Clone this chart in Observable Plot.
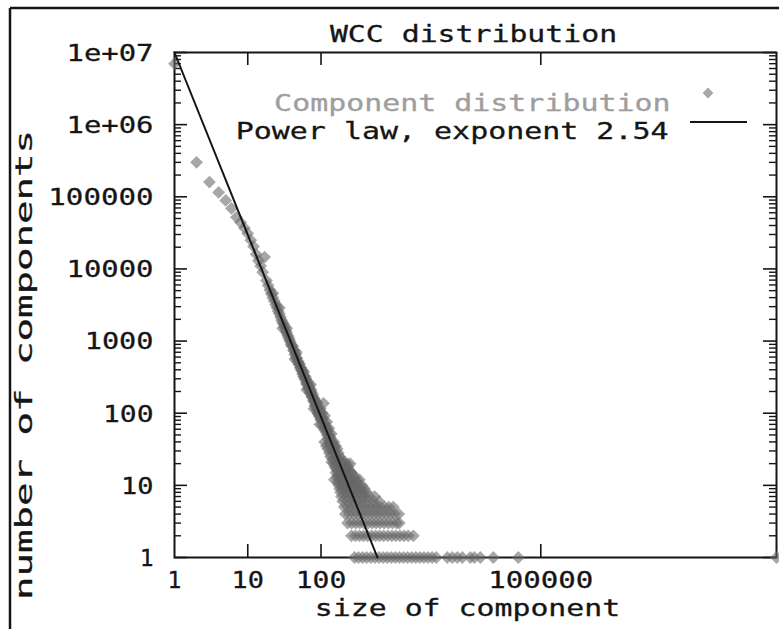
<!DOCTYPE html>
<html>
<head>
<meta charset="utf-8">
<script src="https://cdn.jsdelivr.net/npm/d3@7"></script>
<script src="https://cdn.jsdelivr.net/npm/@observablehq/plot@0.6"></script>
<style>
  html, body { margin: 0; padding: 0; background: #fff; }
  #chart svg { display: block; }
</style>
</head>
<body>
<div id="chart"></div>
<script>
// ---- Data ----
// sizes 1..151 : one count per size
const headSize = [
  1, 2, 3, 4, 5, 6, 7, 8, 9,
  10, 11, 12, 13, 14, 15, 16, 17, 18, 19, 20, 21, 22, 23, 24, 25, 26, 27, 28, 29, 30,
  31, 32, 33, 34, 35, 36, 37, 38, 39, 40,
  41, 42, 43, 44, 45, 46, 47, 48, 49, 50, 51, 52, 53, 54, 55, 56, 57, 58, 59, 60,
  61, 62, 63, 64, 65, 66, 67, 68, 69, 70, 71, 72, 73, 74, 75, 76, 77, 78, 79, 80,
  81, 82, 83, 84, 85, 86, 87, 88, 89, 90, 91, 92, 93, 94, 95, 96, 97, 98, 99, 100,
  102, 104, 106, 108, 109, 111, 113, 115, 117, 119, 121, 123, 125, 127, 129,
  131, 133, 135, 137, 139, 141, 143, 145, 147, 149, 151
];
const headCount = [
  7000000, 300000, 160000, 115000, 89000, 69000, 52000, 44000, 37000,
  31000, 25000, 20500, 16000, 13000, 11000, 9000, 14600, 6900, 5900, 5100, 4500, 4000, 3600, 3200, 2900, 2600, 2400, 2150, 1950, 1800,
  1700, 1550, 1400, 1300, 1200, 1130, 1050, 980, 900, 860,
  840, 745, 735, 650, 655, 585, 575, 520, 515, 470, 480, 425, 430, 390, 395, 350, 360, 320, 330, 295,
  320, 300, 265, 250, 275, 252, 225, 215, 240, 220, 195, 188, 210, 196, 168, 172, 182, 164, 150, 144,
  160, 150, 128, 126, 142, 135, 115, 110, 126, 116, 100, 98, 112, 104, 92, 90, 101, 93, 84, 80,
  88, 70, 82, 137, 64, 74, 58, 66, 55, 62, 50, 57, 44, 52, 40,
  48, 38, 45, 35, 41, 33, 38, 30, 36, 29, 33
];
// scattered points around the main band
const scatterSize = [22, 27, 34, 46, 58, 72, 88, 98, 104, 112, 120, 128, 138, 30, 44, 64, 80, 96];
const scatterCount = [4600, 2900, 1500, 700, 380, 250, 140, 115, 100, 92, 76, 62, 52, 1500, 560, 210, 115, 70];
// low counts: sizes found for each count
const tailCount = [40, 35, 32, 28, 25, 23, 21, 20, 18, 17, 16, 15, 14, 13, 12, 11, 10, 9, 8, 7, 6, 5, 4, 3, 2, 1];
const tailSizes = [
  [112, 150],
  [118, 158],
  [124, 166],
  [130, 150, 172],
  [135, 160, 180],
  [145, 170, 192],
  [140, 158, 185, 205],
  [150, 175, 200, 228, 250],
  [155, 180, 210, 235],
  [162, 195, 220],
  [168, 188, 215, 245],
  [160, 205, 232, 262],
  [172, 198, 225, 272],
  [165, 185, 242, 290],
  [152, 178, 208, 255, 300, 335],
  [170, 200, 232, 265, 310],
  [175, 195, 222, 250, 282, 320, 360],
  [180, 210, 240, 276, 305, 350, 392],
  [185, 215, 246, 286, 330, 375, 420],
  [190, 226, 260, 296, 340, 392, 455, 540],
  [198, 231, 270, 315, 365, 430, 520, 620],
  [208, 236, 268, 305, 345, 392, 445, 505, 575, 650, 740, 840, 970],
  [215, 245, 280, 320, 362, 410, 466, 530, 600, 680, 780, 890, 1010, 1150],
  [230, 262, 298, 338, 385, 440, 500, 565, 640, 730, 830, 945, 1075, 1170],
  [260, 295, 335, 380, 432, 490, 555, 630, 715, 815, 925, 1050, 1195, 1360, 1550, 1820],
  [286, 325, 370, 420, 478, 545, 620, 705, 800, 910, 1035, 1175, 1335, 1520, 1730, 1965,
   2235, 2540, 2890, 3290, 3750, 5300, 6200, 7260, 8490, 10900, 12400, 14960, 22500, 49300, 165000000]
];
// fitted power law (exponent 2.54), end points
const powerLawSize = [1, 590];
const powerLawCount = [10000000, 1];

const xTickValues = [1, 10, 100, 100000];
const xTickLabels = ["1", "10", "100", "100000"];
const yTickValues = [1, 10, 100, 1000, 10000, 100000, 1000000, 10000000];
const yTickLabels = ["1", "10", "100", "1000", "10000", "100000", "1e+06", "1e+07"];
const xMax = 165000000;

// ---- build tables ----
const points = [];
headSize.forEach((s, i) => points.push({size: s, count: headCount[i]}));
scatterSize.forEach((s, i) => points.push({size: s, count: scatterCount[i]}));
tailCount.forEach((c, i) => tailSizes[i].forEach(s => points.push({size: s, count: c})));
const powerLaw = powerLawSize.map((s, i) => ({size: s, count: powerLawCount[i]}));
const yMinor = [];
for (let d = 0; d < 7; d++) for (let m = 2; m <= 9; m++) yMinor.push(m * 10 ** d);

const W = 779, H = 629;
const mL = 174, mR = 3, mT = 52, mB = 72;
const frameW = W - mL - mR, frameH = H - mT - mB;
const ink = "#151515";
const ptFill = "#676767";
const ptOpacity = 0.58;
const ptR = 5.1;

const chart = Plot.plot({
  width: W, height: H,
  marginLeft: mL, marginRight: mR, marginTop: mT, marginBottom: mB,
  style: {fontFamily: "'DejaVu Sans Mono', monospace", fontSize: "23px", color: ink, background: "#fff"},
  x: {type: "log", domain: [1, xMax], axis: null},
  y: {type: "log", domain: [1, 10000000], axis: null},
  marks: [
    // ticks (inward)
    Plot.tickY(yTickValues, {y: d => d, insetRight: frameW - 13, stroke: ink, strokeWidth: 1.6}),
    Plot.tickY(yTickValues, {y: d => d, insetLeft: frameW - 13, stroke: ink, strokeWidth: 1.6}),
    Plot.tickY(yMinor, {y: d => d, insetRight: frameW - 7, stroke: ink, strokeWidth: 1.4}),
    Plot.tickY(yMinor, {y: d => d, insetLeft: frameW - 7, stroke: ink, strokeWidth: 1.4}),
    Plot.tickX(xTickValues.slice(1), {x: d => d, insetTop: frameH - 13, stroke: ink, strokeWidth: 1.6}),
    Plot.tickX(xTickValues.slice(1), {x: d => d, insetBottom: frameH - 13, stroke: ink, strokeWidth: 1.6}),
    Plot.frame({stroke: ink, strokeWidth: 2}),
    // data
    Plot.dot(points, {x: "size", y: "count", symbol: "square", rotate: 45, r: ptR, fill: ptFill, fillOpacity: ptOpacity, stroke: "none"}),
    Plot.line(powerLaw, {x: "size", y: "count", stroke: ink, strokeWidth: 2}),
    // tick labels
    Plot.text(yTickValues, {y: d => d, text: (d, i) => yTickLabels[i], frameAnchor: "left", textAnchor: "end", dx: -21, dy: 1, fill: ink}),
    Plot.text(xTickValues, {x: d => d, text: (d, i) => xTickLabels[i], frameAnchor: "bottom", dy: 30, fill: ink}),
    // titles
    Plot.text(["WCC distribution"], {frameAnchor: "top", dy: -27, dx: -2, fill: ink}),
    Plot.text(["size of component"], {frameAnchor: "bottom", dy: 58, dx: -8, fill: ink}),
    // legend texts
    Plot.text(["Component distribution"], {frameAnchor: "top-right", textAnchor: "end", dx: -106, dy: 42, fill: "#9e9e9e"}),
    Plot.text(["Power law, exponent 2.54"], {frameAnchor: "top-right", textAnchor: "end", dx: -108, dy: 70, fill: ink})
  ]
});

const svg = d3.select(chart);
// y axis title (rotated)
svg.append("text")
  .attr("transform", "translate(25,365) rotate(-90)")
  .attr("text-anchor", "middle")
  .attr("dy", "0.32em")
  .attr("fill", ink)
  .attr("font-family", "'DejaVu Sans Mono', monospace")
  .attr("font-size", 23)
  .text("number of components");

// stretch the glyphs horizontally like the wide bitmap font of the original, slightly heavier strokes
chart.querySelectorAll("text").forEach(t => {
  const s = t.textContent;
  if (!s) return;
  const fill = t.getAttribute("fill") || (t.parentNode && t.parentNode.getAttribute("fill")) || ink;
  t.setAttribute("stroke", fill);
  t.setAttribute("stroke-width", 0.3);
  if (s.length < 2) return;
  const len = s === "number of components" ? 470 : s.length * 18.2 - 4;
  t.setAttribute("textLength", len);
  t.setAttribute("lengthAdjust", "spacingAndGlyphs");
});

// legend samples
svg.append("path")
  .attr("d", d3.symbol(d3.symbolSquare, 4.3 * 4.3 * Math.PI)())
  .attr("transform", "translate(708,93) rotate(45)")
  .attr("fill", ptFill).attr("fill-opacity", ptOpacity);
svg.append("line").attr("x1", 690).attr("x2", 747).attr("y1", 122).attr("y2", 122)
  .attr("stroke", ink).attr("stroke-width", 2);
// outer picture border (top and left edges)
svg.append("line").attr("x1", 10).attr("x2", W).attr("y1", 8).attr("y2", 8)
  .attr("stroke", ink).attr("stroke-width", 2.5);
svg.append("line").attr("x1", 10).attr("x2", 10).attr("y1", 8).attr("y2", H)
  .attr("stroke", ink).attr("stroke-width", 2.5);

document.getElementById("chart").appendChild(chart);
</script>
</body>
</html>
